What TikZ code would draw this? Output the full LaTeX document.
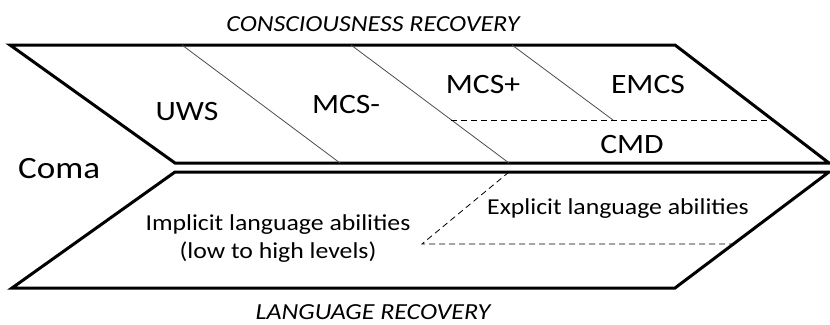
\documentclass[tikz,border=0pt]{standalone}
\usepackage{fontspec}
\setmainfont{Carlito}[FakeStretch=1.13]
\begin{document}
\begin{tikzpicture}[x=1pt,y=-1pt,
    band/.style={line width=3pt,line join=miter},
    phase/.style={line width=0.8pt,black!70},
    split/.style={line width=0.8pt,dash pattern=on 6pt off 4pt},
    stage/.style={anchor=base,inner sep=0pt,font=\fontsize{28}{33}\selectfont},
    ability/.style={anchor=base,inner sep=0pt,font=\fontsize{22.8}{27}\selectfont},
    axis/.style={anchor=base,inner sep=0pt,font=\itshape\fontsize{23}{27}\selectfont}]
  \useasboundingbox (0,0) rectangle (830,324);
  \path
    (10,45) coordinate (c0)
    (675,45) coordinate (c1)
    (829,163) coordinate (c2)
    (175,163) coordinate (c3)
    (175,172) coordinate (l0)
    (829,172) coordinate (l1)
    (675,288) coordinate (l2)
    (12,288) coordinate (l3);
  \path
    (182,45) coordinate (p0) (340,163) coordinate (q0)
    (351,45) coordinate (p1) (509,163) coordinate (q1)
    (512,45) coordinate (p2) (613,120) coordinate (q2)
    (451,120) coordinate (d0) (772,120) coordinate (d1)
    (509,172) coordinate (e0) (422,244) coordinate (e1)
    (734,244) coordinate (e2);
  \draw[band] (c0) -- (c1) -- (c2) -- (c3) -- cycle;
  \draw[band] (l0) -- (l1) -- (l2) -- (l3) -- cycle;
  \begin{scope}[phase]
    \draw (p0) to (q0);
    \draw (p1) to (q1);
    \draw (p2) to (q2);
  \end{scope}
  \begin{scope}[split]
    \draw (d0) to (d1);
    \draw (e0) to (e1) to (e2);
  \end{scope}
  \node[axis] (cons) at (373,31) {CONSCIOUSNESS RECOVERY};
  \node[axis] (lang) at (373,319) {LANGUAGE RECOVERY};
  \node[anchor=base west,inner sep=0pt,font=\fontsize{31}{37}\selectfont] (coma) at (18,178) {Coma};
  \node[stage] (uws) at (187,120) {UWS};
  \node[stage] (mcsm) at (346,113) {MCS-};
  \node[stage] (mcsp) at (483,93) {MCS+};
  \node[stage] (emcs) at (648,93) {EMCS};
  \node[stage] (cmd) at (632,153) {CMD};
  \node[ability] (impl) at (278,230) {Implicit language abilities};
  \node[ability] (lvl) at (278,258) {(low to high levels)};
  \node[ability] (expl) at (618,214) {Explicit language abilities};
\end{tikzpicture}
\end{document}
